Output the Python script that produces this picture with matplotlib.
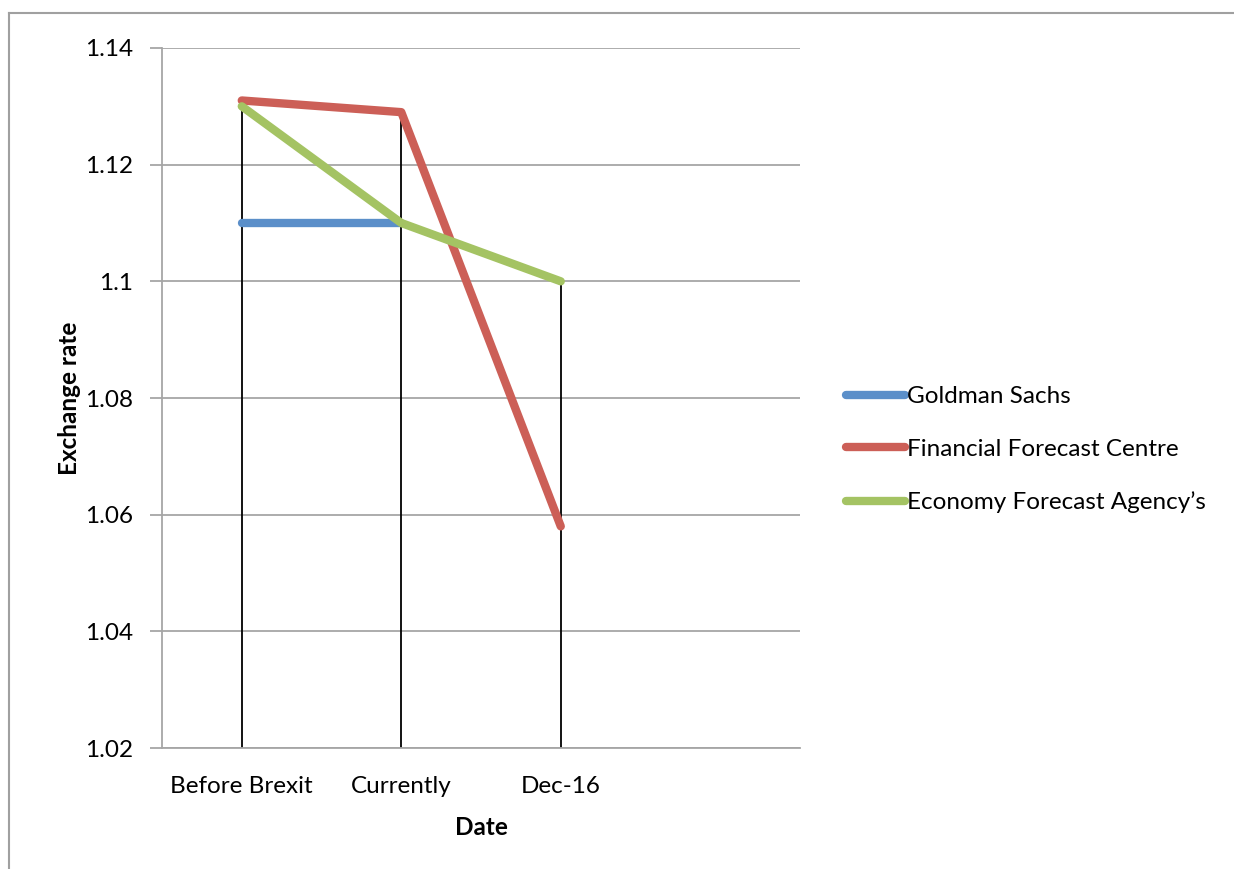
import matplotlib.pyplot as plt
import numpy as np
from matplotlib.lines import Line2D

plt.rcParams['font.family'] = ['Lato', 'DejaVu Sans']

categories = ['Before Brexit', 'Currently', 'Dec-16']
goldman = [1.11, 1.11, np.nan]
financial = [1.131, 1.129, 1.058]
economy = [1.130, 1.110, 1.100]

series = [
    ('Goldman Sachs', goldman, '#5b8fc9'),
    ('Financial Forecast Centre', financial, '#cc5f57'),
    ('Economy Forecast Agency\u2019s', economy, '#a4c363'),
]

fig = plt.figure(figsize=(12.34, 8.69), dpi=100)
ax = fig.add_axes([0.1313, 0.1392, 0.517, 0.8056])

x = np.arange(len(categories))

# drop lines from the highest point in each category down to the axis
tops = np.nanmax(np.array([goldman, financial, economy], dtype=float), axis=0)
ax.vlines(x, 1.02, tops, color='black', linewidth=1.3, zorder=2)

for name, vals, col in series:
    ax.plot(x, vals, color=col, linewidth=6, solid_capstyle='round',
            solid_joinstyle='round', label=name, zorder=3)

ax.set_xlim(-0.5, 3.5)
ax.set_ylim(1.02, 1.14)
ax.set_yticks(np.arange(1.02, 1.141, 0.02))
ax.set_yticklabels(['1.02', '1.04', '1.06', '1.08', '1.1', '1.12', '1.14'])
ax.set_xticks(x)
ax.set_xticklabels(categories)
ax.grid(axis='y', color='#a6a6a6', linewidth=1.3)
ax.set_axisbelow(True)
for s in ['top', 'right']:
    ax.spines[s].set_visible(False)
for s in ['left', 'bottom']:
    ax.spines[s].set_color('#a6a6a6')
    ax.spines[s].set_linewidth(1.3)
ax.tick_params(axis='y', length=9, width=1.3, color='#a6a6a6', labelsize=17.5, pad=12)
ax.tick_params(axis='x', length=0, labelsize=17.5, pad=20)

ax.set_xlabel('Date', fontsize=17.5, fontweight='bold', labelpad=14)
ax.set_ylabel('Exchange rate', fontsize=17.5, fontweight='bold', labelpad=3)

ax.legend(loc='center left', bbox_to_anchor=(0.678, 0.4825), bbox_transform=fig.transFigure,
          frameon=False, fontsize=17.5, handlelength=2.4, handletextpad=0.1,
          labelspacing=1.3, borderaxespad=0)

# outer chart frame (only top and left visible in the crop)
fig.add_artist(Line2D([0.0069, 0.0069], [0.0, 0.985], transform=fig.transFigure,
                      color='#a0a0a0', linewidth=1.5))
fig.add_artist(Line2D([0.0069, 1.0], [0.985, 0.985], transform=fig.transFigure,
                      color='#a0a0a0', linewidth=1.5))

fig.savefig('out.png', dpi=100)
